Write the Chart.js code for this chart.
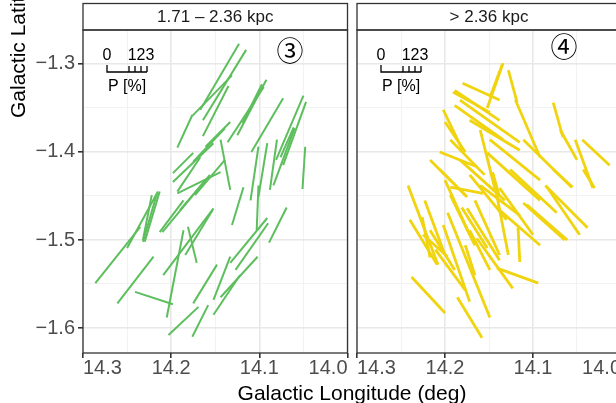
<!DOCTYPE html>
<html>
<head>
<meta charset="utf-8">
<script src="https://cdn.jsdelivr.net/npm/chart.js@4.4.0/dist/chart.umd.min.js"></script>
<style>
  body { margin: 0; width: 616px; height: 403px; overflow: hidden; background: #fff; position: relative;
         font-family: "Liberation Sans", Arial, sans-serif; }
  canvas { position: absolute; top: 0; }
  #near { left: 0; }
  #far { left: 350px; }
  .xtitle { position: absolute; left: 0; width: 704px; top: 382px; text-align: center; font-size: 21px; line-height: 21px; color: #000; white-space: nowrap; }
  .ytitle { position: absolute; left: 7px; top: 118px; width: 300px; font-size: 21px; line-height: 21px; color: #000;
            white-space: nowrap; transform-origin: 0 0; transform: rotate(-90deg); }
</style>
</head>
<body>
<canvas id="near" width="350" height="403"></canvas>
<canvas id="far" width="276" height="403"></canvas>
<div class="xtitle">Galactic Longitude (deg)</div>
<div class="ytitle">Galactic Latitude (deg)</div>
<script>
// 偏振向量：每段 [l1, b1, l2, b2]，單位 deg
var nearSegs = [
  [14.123,-1.277,14.167,-1.352], [14.115,-1.284,14.164,-1.364], [14.131,-1.313,14.176,-1.359],
  [14.176,-1.358,14.193,-1.395], [14.135,-1.325,14.164,-1.382], [14.092,-1.318,14.125,-1.381],
  [14.095,-1.326,14.136,-1.389], [14.073,-1.339,14.109,-1.400], [14.050,-1.336,14.081,-1.409],
  [14.047,-1.343,14.073,-1.415], [14.060,-1.373,14.084,-1.438], [14.048,-1.394,14.051,-1.442],
  [14.144,-1.386,14.133,-1.443], [14.152,-1.390,14.198,-1.434], [14.144,-1.423,14.193,-1.447],
  [14.167,-1.406,14.193,-1.445], [14.175,-1.401,14.198,-1.424], [14.101,-1.394,14.110,-1.455],
  [14.091,-1.390,14.101,-1.451], [14.080,-1.386,14.088,-1.443], [14.061,-1.372,14.076,-1.406],
  [14.215,-1.445,14.250,-1.509], [14.216,-1.447,14.232,-1.502], [14.222,-1.449,14.232,-1.500],
  [14.213,-1.445,14.230,-1.502], [14.235,-1.485,14.286,-1.549], [14.220,-1.519,14.261,-1.572],
  [14.241,-1.559,14.198,-1.573], [14.186,-1.489,14.205,-1.588], [14.181,-1.485,14.171,-1.526],
  [14.152,-1.464,14.209,-1.540], [14.153,-1.466,14.184,-1.517], [14.169,-1.576,14.203,-1.608],
  [14.158,-1.574,14.176,-1.610], [14.148,-1.528,14.175,-1.572], [14.133,-1.519,14.152,-1.568],
  [14.122,-1.540,14.152,-1.585], [14.091,-1.475,14.133,-1.526], [14.090,-1.481,14.127,-1.534],
  [14.102,-1.519,14.144,-1.565], [14.069,-1.463,14.089,-1.503], [14.101,-1.438,14.103,-1.489],
  [14.118,-1.440,14.131,-1.483], [14.161,-1.432,14.210,-1.491], [14.186,-1.455,14.213,-1.491],
  [14.139,-1.373,14.175,-1.411], [14.133,-1.366,14.161,-1.394], [14.097,-1.323,14.119,-1.367],
  [14.139,-1.409,14.173,-1.449], [14.156,-1.426,14.190,-1.466]
];

var farSegs = [
  [14.134,-1.299,14.152,-1.350], [14.135,-1.301,14.149,-1.338], [14.128,-1.307,14.118,-1.344],
  [14.120,-1.341,14.092,-1.406], [14.180,-1.322,14.138,-1.341], [14.191,-1.332,14.149,-1.355],
  [14.189,-1.347,14.134,-1.386], [14.183,-1.341,14.115,-1.389], [14.200,-1.366,14.177,-1.400],
  [14.206,-1.400,14.163,-1.417], [14.217,-1.409,14.175,-1.451], [14.152,-1.401,14.092,-1.455],
  [14.111,-1.386,14.056,-1.440], [14.077,-1.344,14.066,-1.383], [14.069,-1.375,14.050,-1.409],
  [14.052,-1.386,14.032,-1.441], [14.044,-1.386,14.013,-1.415], [14.242,-1.438,14.208,-1.528],
  [14.240,-1.477,14.209,-1.528], [14.226,-1.474,14.217,-1.520], [14.225,-1.494,14.197,-1.519],
  [14.202,-1.483,14.172,-1.570], [14.197,-1.469,14.149,-1.588], [14.238,-1.542,14.200,-1.583],
  [14.186,-1.565,14.158,-1.611], [14.181,-1.463,14.152,-1.509], [14.175,-1.464,14.138,-1.523],
  [14.141,-1.532,14.094,-1.549], [14.164,-1.498,14.123,-1.555], [14.146,-1.424,14.128,-1.517],
  [14.138,-1.441,14.100,-1.494], [14.111,-1.458,14.064,-1.500], [14.086,-1.438,14.038,-1.486],
  [14.084,-1.440,14.047,-1.494], [14.117,-1.486,14.115,-1.525], [14.126,-1.420,14.073,-1.469],
  [14.172,-1.426,14.130,-1.477], [14.206,-1.420,14.175,-1.451], [14.077,-1.420,14.055,-1.440],
  [14.043,-1.420,14.030,-1.441], [14.107,-1.460,14.061,-1.500], [14.202,-1.352,14.180,-1.398],
  [14.189,-1.330,14.138,-1.364], [14.172,-1.364,14.115,-1.398], [14.194,-1.386,14.155,-1.426],
  [14.160,-1.375,14.143,-1.443], [14.194,-1.440,14.157,-1.447], [14.200,-1.432,14.172,-1.494],
  [14.217,-1.489,14.189,-1.534], [14.177,-1.506,14.166,-1.540], [14.146,-1.423,14.138,-1.451],
  [14.223,-1.455,14.200,-1.517], [14.194,-1.449,14.166,-1.506], [14.166,-1.455,14.138,-1.517],
  [14.160,-1.438,14.115,-1.472], [14.183,-1.409,14.132,-1.455], [14.149,-1.386,14.092,-1.432],
  [14.211,-1.511,14.177,-1.557], [14.172,-1.489,14.149,-1.534], [14.138,-1.466,14.092,-1.506]
];

var lonTicks = [14.0, 14.05, 14.1, 14.15, 14.2, 14.25, 14.3];
var lonLabels = ['14.0', '', '14.1', '', '14.2', '', '14.3'];
var latTicks = [-1.6, -1.55, -1.5, -1.45, -1.4, -1.35, -1.3];
var latLabels = ['\u22121.6', '', '\u22121.5', '', '\u22121.4', '', '\u22121.3'];

var FONT = '"Liberation Sans", Arial, sans-serif';

// 面板框、標題條、編號與 P 比例尺
var panelDeco = {
  id: 'panelDeco',
  afterDraw: function(chart, args, opts) {
    var ctx = chart.ctx, a = chart.chartArea;
    ctx.save();
    ctx.strokeStyle = '#333333';
    ctx.lineWidth = 1.3;
    ctx.strokeRect(a.left, a.top, a.right - a.left, a.bottom - a.top);
    ctx.strokeRect(a.left, 3.5, a.right - a.left, a.top - 3.5);

    ctx.fillStyle = '#1a1a1a';
    ctx.font = '17px ' + FONT;
    ctx.textAlign = 'center';
    ctx.textBaseline = 'middle';
    ctx.fillText(opts.strip, (a.left + a.right) / 2, 17);

    ctx.fillStyle = '#000';
    ctx.font = '27px "Noto Sans CJK JP"';
    ctx.fillText(opts.badge, a.left + 207, opts.badgeY);

    // P [%] 比例尺
    var x0 = a.left + 24;
    ctx.font = '16px ' + FONT;
    ctx.fillText('0', x0, 56);
    ctx.fillText('123', x0 + 34, 56);
    ctx.fillText('P [%]', x0 + 20, 87);
    ctx.strokeStyle = '#000';
    ctx.lineWidth = 1.3;
    ctx.beginPath();
    ctx.moveTo(x0, 65); ctx.lineTo(x0, 72); ctx.lineTo(x0 + 40, 72);
    [22, 28, 34, 40].forEach(function(d) {
      ctx.moveTo(x0 + d, 66); ctx.lineTo(x0 + d, 72);
    });
    ctx.stroke();
    ctx.restore();
  }
};

function makeDatasets(segs, color, width) {
  return segs.map(function(s) {
    return {
      data: [{x: s[0], y: s[1]}, {x: s[2], y: s[3]}],
      borderColor: color,
      borderWidth: width,
      pointRadius: 0,
      fill: false
    };
  });
}

function gridOpts(showTicks) {
  return {
    color: function(c) { return c.index % 2 ? '#F2F2F2' : '#E8E8E8'; },
    lineWidth: function(c) { return c.index % 2 ? 1 : 1.6; },
    tickColor: function(c) { return c.index % 2 ? 'rgba(0,0,0,0)' : '#333333'; },
    tickLength: 5,
    drawTicks: showTicks
  };
}

function makeChart(id, segs, color, width, deco, yWidth, showY, padRight) {
  return new Chart(document.getElementById(id), {
    type: 'line',
    data: { datasets: makeDatasets(segs, color, width) },
    options: {
      responsive: false,
      animation: false,
      layout: { padding: { top: 30, right: padRight, left: 0, bottom: 0 } },
      plugins: { legend: { display: false }, tooltip: { enabled: false }, panelDeco: deco },
      scales: {
        x: {
          type: 'linear',
          reverse: true,
          min: 14.0,
          max: 14.3,
          afterBuildTicks: function(s) { s.ticks = lonTicks.map(function(v) { return {value: v}; }); },
          afterFit: function(s) { s.height = 50; },
          ticks: {
            autoSkip: false,
            maxRotation: 0,
            align: 'inner',
            padding: 0,
            color: '#4D4D4D',
            font: { family: FONT, size: 20, lineHeight: 1 },
            callback: function(v, i) { return lonLabels[i]; }
          },
          grid: gridOpts(true),
          border: { display: false }
        },
        y: {
          type: 'linear',
          min: -1.6284,
          max: -1.2614,
          afterBuildTicks: function(s) { s.ticks = latTicks.map(function(v) { return {value: v}; }); },
          afterFit: function(s) { s.width = yWidth; },
          ticks: {
            display: showY,
            padding: 3,
            color: '#4D4D4D',
            font: { family: FONT, size: 20 },
            callback: function(v, i) { return latLabels[i]; }
          },
          grid: gridOpts(showY),
          border: { display: false }
        }
      }
    },
    plugins: [panelDeco]
  });
}

makeChart('near', nearSegs, '#5DBE5D', 2, { strip: '1.71 \u2013 2.36 kpc', badge: '\u2462', badgeY: 51 }, 83, true, 2.5);
makeChart('far', farSegs, '#F0D40F', 2.8, { strip: '> 2.36 kpc', badge: '\u2463', badgeY: 47 }, 7, false, 5);
</script>
</body>
</html>
